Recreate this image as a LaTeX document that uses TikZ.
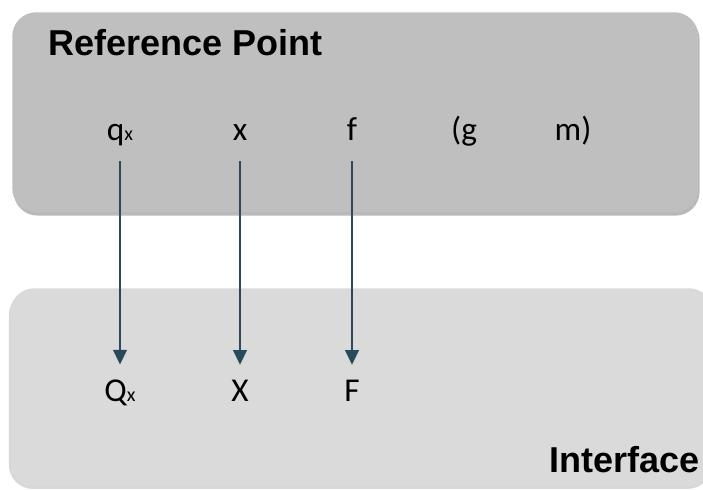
\documentclass[tikz,border=0pt]{standalone}
\usepackage{fontspec}
\setmainfont{Carlito}
\setsansfont{Liberation Sans}
\usetikzlibrary{positioning,arrows.meta,shadows}
\definecolor{upperfill}{RGB}{191,191,191}
\definecolor{lowerfill}{RGB}{218,218,218}
\definecolor{arrowcol}{RGB}{40,74,90}
\newcommand{\smallx}[1]{{\fontsize{15}{15}\selectfont #1}}
\tikzset{
  panel/.style={rectangle, rounded corners=18pt, draw=none, anchor=north west, inner sep=0pt},
  upper/.style={panel, fill=upperfill,
                drop shadow={shadow xshift=1pt, shadow yshift=-2.5pt, opacity=0.5, fill=black!55}},
  lower/.style={panel, fill=lowerfill,
                drop shadow={shadow xshift=-1pt, shadow yshift=-2pt, opacity=0.35, fill=black!45}},
  title/.style={font=\sffamily\bfseries\fontsize{27}{30}\selectfont, inner sep=0pt},
  sym/.style={font=\fontsize{25}{28}\selectfont, inner sep=0pt, anchor=base},
  ar/.style={-{Triangle[length=11pt, width=10.5pt]}, line width=1pt, draw=arrowcol,
             shorten <=16pt, shorten >=11pt},
}
\begin{document}
\begin{tikzpicture}[x=0.75pt, y=-0.75pt]
  \useasboundingbox (0,0) rectangle (703,489);
  \begin{scope}
  \clip (0,0) rectangle (703,489);
  % the two panels
  \node[upper, minimum width=514.5pt, minimum height=150pt] (refbox) at (12,12) {};
  \node[lower, minimum width=527pt, minimum height=148.5pt] (ifbox) at (10,288) {};
  \end{scope}
  \node[title, anchor=base west] (reftitle) at (48,55) {Reference Point};
  \node[title, anchor=base east] (iftitle) at (700,472) {Interface};
  % quantities at the reference point
  \node[sym] (qx) at (120,140) {q\smallx{x}};
  \node[sym] (x) at (240,140) {x};
  \node[sym] (f) at (352,140) {f};
  \node[sym] (g) at (464,140) {(g};
  \node[sym] (m) at (573,140) {m)};
  % quantities at the interface
  \node[sym] (Qx) at (120,401) {Q\smallx{x}};
  \node[sym] (X) at (240,401) {X};
  \node[sym] (F) at (352,401) {F};
  \draw[ar] (qx.base) -- (Qx.north);
  \draw[ar] (x.base) -- (X.north);
  \draw[ar] (f.base) -- (F.north);
\end{tikzpicture}
\end{document}
